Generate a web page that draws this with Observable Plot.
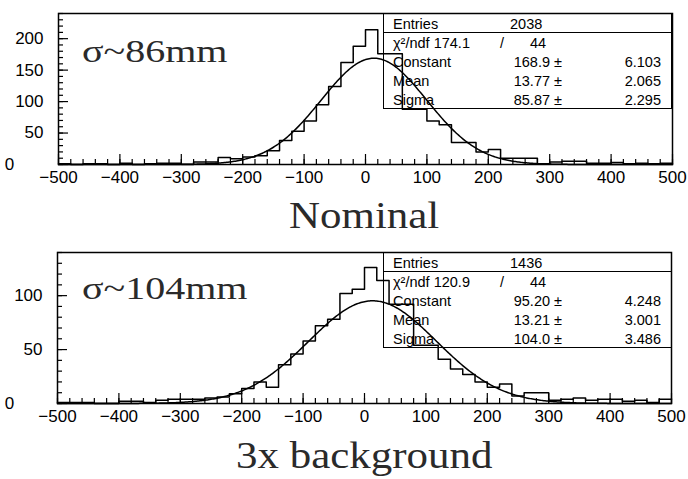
<!DOCTYPE html>
<html><head><meta charset="utf-8">
<script src="https://cdn.jsdelivr.net/npm/d3@7"></script>
<script src="https://cdn.jsdelivr.net/npm/@observablehq/plot@0.6"></script>
<style>
body{margin:0;background:#fff;}
#wrap{position:relative;width:688px;height:479px;overflow:hidden;background:#fff;}
.panel{position:absolute;left:0;}
.big{position:absolute;font-family:"Liberation Serif","Times New Roman",serif;color:#2a2a2a;white-space:nowrap;line-height:1;transform-origin:0 0;}
.stats{position:absolute;border:1.5px solid #000;box-sizing:border-box;font-family:"Liberation Sans",Arial,sans-serif;font-size:14.5px;color:#000;}
.stats .sep{position:absolute;left:0;right:0;border-top:1.5px solid #000;}
.stats span{position:absolute;white-space:nowrap;line-height:1;}
</style></head><body>
<div id="wrap"></div>
<script>
// ---- data ----
const binStart = -500;
const binWidth = 20;
const nominalCounts = [1,0,1,1,0,2,0,1,2,2,0,4,4,11,9,12,14,22,38,53,69,95,124,162,188,214,176,176,88,88,69,63,35,35,20,24,10,10,10,1,4,5,5,2,2,3,1,2,1,2];
const backgroundCounts = [1,1,1,0,0,2,2,1,3,4,4,4,5,6,9,14,20,15,36,46,58,72,78,102,106,126,114,92,92,54,54,41,32,27,20,15,18,7,10,10,3,4,5,3,4,4,2,3,1,4];
const nominalFit = [168.9, 13.77, 85.87];      // constant, mean, sigma
const backgroundFit = [95.20, 13.21, 104.0];
const nominalStats = ["2038", "174.1", "44", "168.9", "6.103", "13.77", "2.065", "85.87", "2.295"];
const backgroundStats = ["1436", "120.9", "44", "95.20", "4.248", "13.21", "3.001", "104.0", "3.486"];
const panelTitles = ["Nominal", "3x background"];
const sigmaLabels = ["σ~86mm", "σ~104mm"];
const xMajor = d3.range(-500, 501, 100);
const xMinor = d3.range(-500, 501, 20);
const nominalYMajor = [0, 50, 100, 150, 200];
const backgroundYMajor = [0, 50, 100];

const wrap = document.getElementById("wrap");

function steps(counts) {
  const pts = [];
  counts.forEach((c, i) => {
    const x0 = binStart + i * binWidth;
    pts.push({x: x0, y: c}, {x: x0 + binWidth, y: c});
  });
  return pts;
}
function fitCurve(p) {
  const [c, m, s] = p;
  return d3.range(binStart, 500.001, 2).map(x => ({x, y: c * Math.exp(-0.5 * ((x - m) / s) ** 2)}));
}

function panel(counts, fit, yMax, yMajor, top, left, right) {
  const H = 192, mt = 13, mb = 28;
  const fh = H - mt - mb, fw = 688 - left - right;
  const yMinor = d3.range(0, yMax + 0.001, 10);
  const svg = Plot.plot({
    width: 688, height: H,
    marginTop: mt, marginBottom: mb, marginLeft: left, marginRight: right,
    x: {domain: [-500, 500]},
    y: {domain: [0, yMax]},
    style: {fontFamily: "'Liberation Sans', Arial, sans-serif", fontSize: "17px", color: "#000", background: "transparent", overflow: "visible"},
    marks: [
      Plot.tickX(xMinor, {x: d => d, insetTop: fh - 5, stroke: "#000", strokeWidth: 1.2}),
      Plot.tickX(xMajor, {x: d => d, insetTop: fh - 10, stroke: "#000", strokeWidth: 1.2}),
      Plot.tickY(yMinor, {y: d => d, insetRight: fw - 5, stroke: "#000", strokeWidth: 1.2}),
      Plot.tickY(yMajor, {y: d => d, insetRight: fw - 10, stroke: "#000", strokeWidth: 1.2}),
      Plot.axisX(xMajor, {tickSize: 0, tickPadding: 6, label: null, fontSize: 17}),
      Plot.axisY(yMajor.filter(v => v > 0), {tickSize: 0, tickPadding: 15, label: null, fontSize: 17}),
      Plot.text([0], {x: -500, y: 0, text: d => String(d), dx: -left + 9, fontSize: 17, textAnchor: "middle", lineAnchor: "middle"}),
      Plot.line(fitCurve(fit), {x: "x", y: "y", stroke: "#000", strokeWidth: 1.5}),
      Plot.line(steps(counts), {x: "x", y: "y", stroke: "#000", strokeWidth: 1.5}),
      Plot.frame({stroke: "#000", strokeWidth: 1.5})
    ]
  });
  svg.classList.add("panel");
  svg.style.top = top + "px";
  wrap.appendChild(svg);
}

function bigText(txt, x, y, size, sx, center) {
  const d = document.createElement("div");
  d.className = "big";
  d.textContent = txt;
  d.style.fontSize = size + "px";
  d.style.top = y + "px";
  wrap.appendChild(d);
  const w = d.getBoundingClientRect().width * sx;
  d.style.left = (center ? x - w / 2 : x) + "px";
  d.style.transform = `scaleX(${sx})`;
}

function statsBox(vals, left, top, width, height) {
  const b = document.createElement("div");
  b.className = "stats";
  Object.assign(b.style, {left: left + "px", top: top + "px", width: width + "px", height: height + "px"});
  const rowH = 19;
  const sep = document.createElement("div"); sep.className = "sep"; sep.style.top = (rowH - 1) + "px"; b.appendChild(sep);
  const put = (t, x, row, anchor) => {
    const s = document.createElement("span");
    s.textContent = t;
    s.style.top = (row * rowH + 3) + "px";
    if (anchor === "end") { s.style.right = (width - x) + "px"; } else { s.style.left = x + "px"; }
    b.appendChild(s);
  };
  put("Entries", 9, 0); put(vals[0], 126, 0);
  put("χ²/ndf " + vals[1], 9, 1); put("/", 116, 1); put(vals[2], 146, 1);
  const names = ["Constant", "Mean", "Sigma"];
  names.forEach((n, i) => {
    put(n, 9, i + 2);
    put(vals[3 + 2 * i] + " ±", 180, i + 2, "end");
    put(vals[4 + 2 * i], 279, i + 2, "end");
  });
  wrap.appendChild(b);
}

panel(nominalCounts, nominalFit, 240, nominalYMajor, 0, 58, 16);
panel(backgroundCounts, backgroundFit, 140, backgroundYMajor, 239, 57, 17);
statsBox(nominalStats, 383, 13, 289, 96);
statsBox(backgroundStats, 383, 252, 289, 96);
bigText(sigmaLabels[0], 82, 35, 32, 1.25, false);
bigText(sigmaLabels[1], 82, 272, 32, 1.25, false);
bigText(panelTitles[0], 364, 196, 38, 1.13, true);
bigText(panelTitles[1], 364, 436, 38, 1.13, true);
</script>
</body></html>
